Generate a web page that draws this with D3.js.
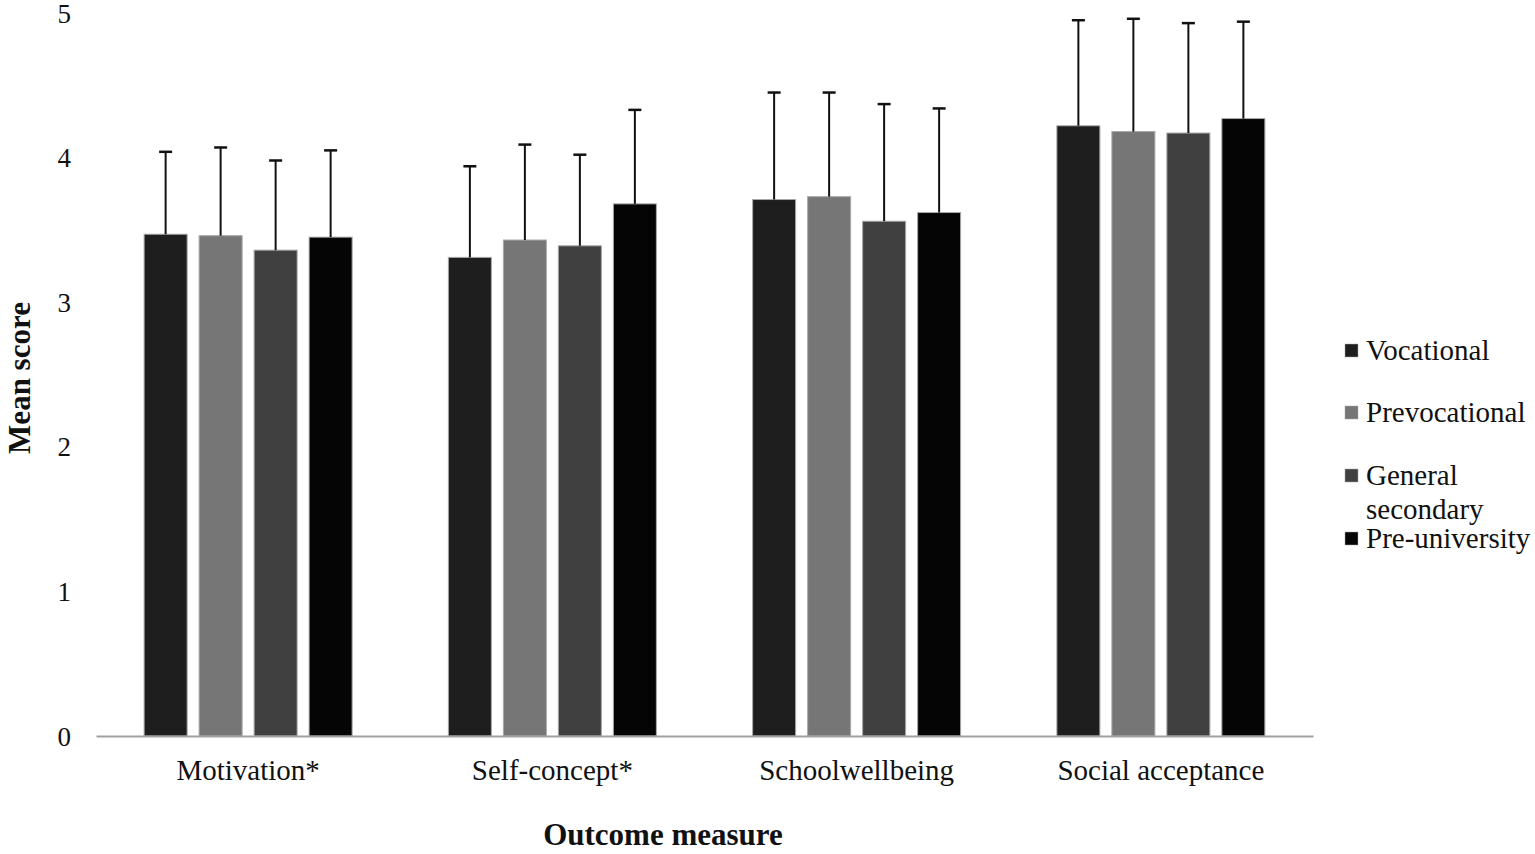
<!DOCTYPE html>
<html><head><meta charset="utf-8">
<script src="https://cdn.jsdelivr.net/npm/d3@7"></script>
<style>body{margin:0;background:#fff;} text{font-family:"Liberation Serif","Times New Roman",serif;}</style>
</head><body>
<svg id="c" width="1535" height="854"></svg>
<script>
const categories = ["Motivation*", "Self-concept*", "Schoolwellbeing", "Social acceptance"];
const seriesNames = ["Vocational", "Prevocational", "General secondary", "Pre-university"];
const seriesColors = ["#1e1e1e", "#767676", "#404040", "#050505"];
// means per series (index = category)
const vocational     = [3.47, 3.31, 3.71, 4.22];
const prevocational  = [3.46, 3.43, 3.73, 4.18];
const generalSec     = [3.36, 3.39, 3.56, 4.17];
const preUniversity  = [3.45, 3.68, 3.62, 4.27];
// standard deviations (error bar above mean)
const vocationalSD    = [0.57, 0.63, 0.74, 0.73];
const prevocationalSD = [0.61, 0.66, 0.72, 0.78];
const generalSecSD    = [0.62, 0.63, 0.81, 0.76];
const preUniversitySD = [0.60, 0.65, 0.72, 0.67];
const yTicks = [0, 1, 2, 3, 4, 5];

const means = [vocational, prevocational, generalSec, preUniversity];
const sds = [vocationalSD, prevocationalSD, generalSecSD, preUniversitySD];

const svg = d3.select("#c");
const mLeft = 96, mRight = 1313, mTop = 13, mBottom = 736;

const x0 = d3.scaleBand().domain(categories).range([mLeft, mRight]).paddingInner(0).paddingOuter(0);
const x1 = d3.scaleBand().domain(seriesNames).range([0, x0.bandwidth()]).paddingInner(0.218).paddingOuter(0.875);
const y = d3.scaleLinear().domain([0, 5]).range([mBottom, mTop]);

// y tick labels (no axis line)
const yAxis = d3.axisLeft(y).tickValues(yTicks).tickSize(0).tickPadding(0).tickFormat(d3.format("d"));
const ga = svg.append("g").attr("transform", `translate(${mLeft - 25},0)`).call(yAxis);
ga.select(".domain").remove();
ga.selectAll("text").attr("font-size", 27).attr("fill", "#111").attr("font-family", "Liberation Serif, serif").attr("dy", "0.34em");

const data = [];
categories.forEach((c, ci) => seriesNames.forEach((s, si) => data.push({c, s, si, m: means[si][ci], sd: sds[si][ci]})));

const g = svg.append("g");
g.selectAll("rect.bar").data(data).join("rect").attr("class", "bar")
  .attr("x", d => x0(d.c) + x1(d.s))
  .attr("width", x1.bandwidth())
  .attr("y", d => y(d.m))
  .attr("height", d => y(0) - y(d.m))
  .attr("fill", d => seriesColors[d.si])
  .attr("stroke", "#a8a8a8").attr("stroke-width", 1);

// error bars
g.selectAll("line.err").data(data).join("line").attr("class", "err")
  .attr("x1", d => x0(d.c) + x1(d.s) + x1.bandwidth() / 2)
  .attr("x2", d => x0(d.c) + x1(d.s) + x1.bandwidth() / 2)
  .attr("y1", d => y(d.m))
  .attr("y2", d => y(d.m + d.sd))
  .attr("stroke", "#111").attr("stroke-width", 2);
g.selectAll("line.cap").data(data).join("line").attr("class", "cap")
  .attr("x1", d => x0(d.c) + x1(d.s) + x1.bandwidth() / 2 - 6.5)
  .attr("x2", d => x0(d.c) + x1(d.s) + x1.bandwidth() / 2 + 6.5)
  .attr("y1", d => y(d.m + d.sd))
  .attr("y2", d => y(d.m + d.sd))
  .attr("stroke", "#111").attr("stroke-width", 2.5);

// x axis
const xAxis = d3.axisBottom(x0).tickSize(0).tickPadding(23);
const gx = svg.append("g").attr("transform", `translate(0,${mBottom})`).call(xAxis);
gx.select(".domain").attr("stroke", "#a0a0a0").attr("stroke-width", 2);
gx.selectAll("text").attr("font-size", 29).attr("fill", "#111").attr("font-family", "Liberation Serif, serif");

// axis titles
svg.append("text").attr("x", 663).attr("y", 845).attr("text-anchor", "middle")
  .attr("font-size", 31).attr("font-weight", "bold").attr("fill", "#111").text("Outcome measure");
svg.append("text").attr("transform", "translate(30,378) rotate(-90)").attr("text-anchor", "middle")
  .attr("font-size", 31).attr("font-weight", "bold").attr("fill", "#111").text("Mean score");

// legend
const legendItems = [
  {i: 0, lines: ["Vocational"], y: 350},
  {i: 1, lines: ["Prevocational"], y: 412},
  {i: 2, lines: ["General", "secondary"], y: 475},
  {i: 3, lines: ["Pre-university"], y: 538}
];
const lg = svg.append("g");
legendItems.forEach(it => {
  lg.append("rect").attr("x", 1345).attr("y", it.y - 6).attr("width", 13).attr("height", 13)
    .attr("fill", seriesColors[it.i]).attr("stroke", "#a8a8a8").attr("stroke-width", 0.5);
  const t = lg.append("text").attr("x", 1366).attr("y", it.y)
    .attr("font-size", 29).attr("fill", "#111");
  it.lines.forEach((l, k) => t.append("tspan").attr("x", 1366).attr("dy", k === 0 ? "0.35em" : "1.17em").text(l));
});
</script>
</body></html>
